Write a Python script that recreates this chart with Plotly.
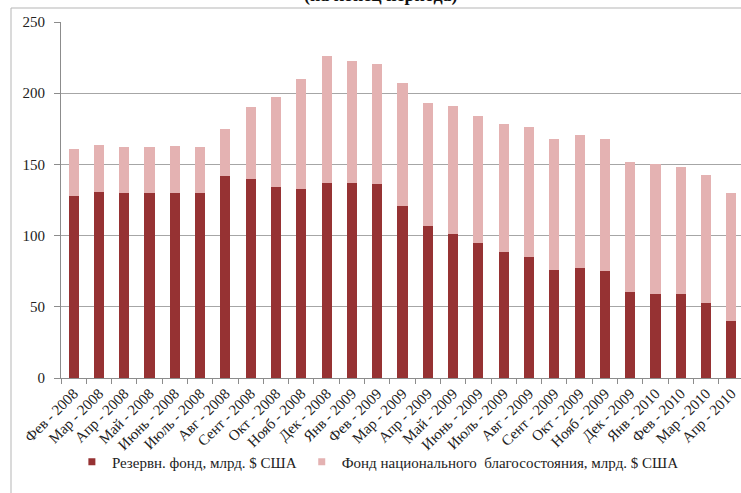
import plotly.graph_objects as go

# Месяцы (на конец периода)
months = ["Фев - 2008", "Мар - 2008", "Апр - 2008", "Май - 2008", "Июнь - 2008",
          "Июль - 2008", "Авг - 2008", "Сент - 2008", "Окт - 2008", "Нояб - 2008",
          "Дек - 2008", "Янв - 2009", "Фев - 2009", "Мар - 2009", "Апр - 2009",
          "Май - 2009", "Июнь - 2009", "Июль - 2009", "Авг - 2009", "Сент - 2009",
          "Окт - 2009", "Нояб - 2009", "Дек - 2009", "Янв - 2010", "Фев - 2010",
          "Мар - 2010", "Апр - 2010"]

# Резервный фонд, млрд. $ США
reserve_fund = [127.7, 130.3, 129.6, 129.6, 129.8, 129.6, 142.0, 140.1, 134.0, 132.6,
                136.8, 136.8, 135.9, 120.9, 106.7, 101.0, 94.5, 88.4, 85.1, 75.8,
                77.0, 74.9, 60.4, 59.2, 58.7, 52.4, 39.8]

# Фонд национального благосостояния, млрд. $ США
nwf = [32.9, 33.3, 32.8, 32.6, 33.3, 32.8, 33.1, 50.0, 63.6, 77.2,
       89.0, 85.5, 84.7, 86.6, 86.7, 90.0, 89.7, 90.0, 91.4, 92.2,
       93.6, 92.9, 91.4, 91.0, 89.6, 90.3, 89.8]

y_ticks = [0, 50, 100, 150, 200, 250]

reserve_name = "Резервн. фонд, млрд. $ США"
nwf_name = "Фонд национального  благосостояния, млрд. $ США"

DARK = "#963233"
LIGHT = "#E4B2B2"
SERIF = "'Liberation Serif', 'Times New Roman', 'DejaVu Serif', serif"

fig = go.Figure()
fig.add_trace(go.Bar(x=months, y=reserve_fund, name=reserve_name,
                     marker=dict(color=DARK, line=dict(width=0)), showlegend=False))
fig.add_trace(go.Bar(x=months, y=nwf, name=nwf_name,
                     marker=dict(color=LIGHT, line=dict(width=0)), showlegend=False))

# small square legend markers
for nm, col in [(reserve_name, DARK), (nwf_name, LIGHT)]:
    fig.add_trace(go.Scatter(x=[None], y=[None], mode="markers", name=nm,
                             marker=dict(symbol="square", size=7, color=col)))

fig.update_layout(
    width=741, height=493,
    margin=dict(l=61, r=0, t=22, b=115),
    barmode="stack", bargap=0.6,
    paper_bgcolor="white", plot_bgcolor="white",
    font=dict(family=SERIF, color="#222222"),
    showlegend=True,
    legend=dict(orientation="h", x=0.016, xanchor="left", y=-0.236, yanchor="middle",
                traceorder="normal",
                font=dict(family=SERIF, size=15, color="#222222"),
                itemwidth=30, tracegroupgap=0, bgcolor="rgba(0,0,0,0)"),
    xaxis=dict(
        type="category", range=[-0.5, 26.38],
        tickangle=-45, tickfont=dict(family=SERIF, size=15, color="#222222"),
        showline=True, linecolor="#8c8c8c", linewidth=1,
        ticks="outside", tickson="boundaries", ticklen=5, tickcolor="#8c8c8c",
        showgrid=False, fixedrange=True,
    ),
    yaxis=dict(
        range=[0, 250], tickvals=y_ticks,
        tickfont=dict(family=SERIF, size=15, color="#222222"),
        showline=True, linecolor="#8c8c8c", linewidth=1,
        ticks="outside", ticklen=6, tickcolor="#8c8c8c", ticklabelstandoff=6,
        showgrid=True, gridcolor="#a6a6a6", gridwidth=1,
        zeroline=False, fixedrange=True,
    ),
    shapes=[dict(type="rect", xref="paper", yref="paper",
                 x0=(11 - 61) / 680, x1=1.2, y0=-0.6, y1=(378 - 8) / 356,
                 line=dict(color="#b5b5b5", width=1), fillcolor="rgba(0,0,0,0)",
                 layer="below")],
    annotations=[dict(text="<b>(на конец периода)</b>", xref="paper", yref="paper",
                      x=(381 - 61) / 680, y=(378 - 8) / 356,
                      xanchor="center", yanchor="bottom", showarrow=False,
                      font=dict(family=SERIF, size=18, color="#111111"))],
)

fig.write_html("out.html")
